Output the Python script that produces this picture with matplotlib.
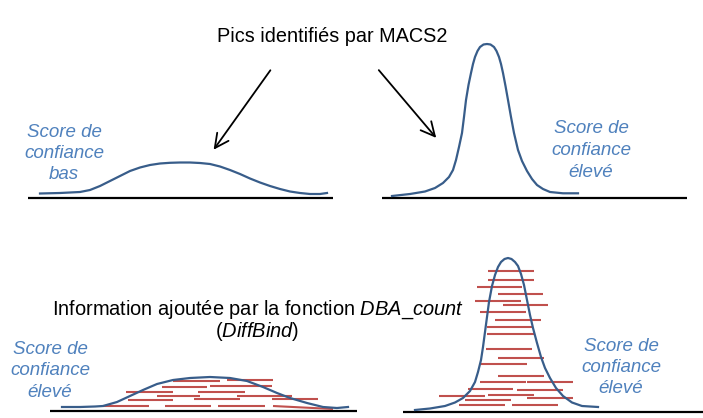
import matplotlib

matplotlib.use("Agg")
import matplotlib.pyplot as plt

plt.rcParams["font.family"] = ["Liberation Sans", "DejaVu Sans"]
plt.rcParams["mathtext.fontset"] = "custom"
plt.rcParams["mathtext.rm"] = "Liberation Sans"
plt.rcParams["mathtext.it"] = "Liberation Sans:italic"

CURVE_COLOR = "#385D8A"
LABEL_COLOR = "#4F81BD"
READ_COLOR = "#C0504D"

# peak profiles (pixel coordinates, y grows downwards)
low_top_x = [40, 60, 80, 90, 100, 110, 120, 130, 140, 150, 160, 170, 180, 190,
             200, 210, 220, 230, 240, 250, 260, 270, 280, 290, 300, 310, 320, 327]
low_top_y = [193.5, 193, 192, 190, 186, 181, 176, 171, 167.5, 165, 163.5, 162.8, 162.5, 162.5,
             163, 164, 166.5, 170, 174, 178.5, 182.5, 186, 189, 191.5, 193, 194, 194, 193]

high_top_x = [392, 410, 425, 435, 443, 449, 453, 456, 459, 462, 464, 466, 468.5, 471, 473,
              475, 477.5, 480, 483.5, 487, 490.5, 494, 496.5, 499, 501, 503, 505.5, 508,
              511, 514, 518, 522, 527, 532, 537, 543, 550, 563, 578]
high_top_y = [196, 194, 191.5, 188, 183, 177, 170, 160, 147, 133, 117, 100, 85, 73, 64,
              57, 51, 47, 44.5, 44, 44.5, 47, 51, 57, 64, 73, 86, 100, 117, 133, 150,
              161, 171, 179, 185, 189, 192, 193.3, 193.3]

low_bot_x = [62, 80, 95, 103, 117, 130, 143, 157, 173, 190, 210, 230, 247,
             263, 277, 290, 307, 323, 337, 348]
low_bot_y = [407, 407, 406.5, 406, 402, 396, 390, 384, 380, 378, 377, 378, 381,
             387, 393, 398, 403, 407, 408, 407]

high_bot_x = [415, 430, 445, 455, 463, 470, 475, 478, 481, 483, 485, 487, 489, 492,
              495, 498, 501, 504.5, 508, 511.5, 515, 518, 521, 524, 527, 530, 533, 537,
              541, 545, 550, 556, 563, 572, 582, 598]
high_bot_y = [410, 408.5, 406, 402.5, 398, 391, 382, 372, 360, 347, 332, 317, 302, 286,
              275, 267, 262, 259, 258, 259, 262, 266, 274, 285, 300, 315, 328, 343,
              357, 368, 378, 388, 396, 402.5, 406, 407]

# reads counted by DBA_count (start x, end x, start y, end y)
left_x0 = [173, 227, 162, 210, 126, 157, 198, 237, 128, 194, 272, 103, 165, 218, 273]
left_x1 = [220, 273, 207, 272, 173, 200, 245, 292, 173, 240, 318, 149, 211, 265, 333]
left_y0 = [381, 380, 387, 386, 392, 396, 392, 396, 400, 399, 399, 406, 406, 406, 406]
left_y1 = [381, 380, 387, 386, 392, 396, 392, 396, 400, 399, 399, 406, 406, 406, 409]

right_x0 = [488, 488, 477, 498, 475, 503, 480, 495, 487, 487, 486, 498, 481, 498,
            480, 527, 468, 517, 439, 488, 527, 465, 459, 512]
right_x1 = [534, 534, 522, 543, 521, 548, 526, 541, 533, 534, 532, 544, 527, 544,
            526, 573, 513, 563, 485, 534, 573, 511, 505, 558]
right_y = [271, 280, 287, 294, 301, 305, 312, 320, 327, 334, 349, 358, 364, 376,
           382, 382, 389, 390, 396, 395, 398, 400, 405, 405]

# baselines (x start, x end, y)
base_x0 = [28, 382, 50, 403]
base_x1 = [333, 687, 357, 703]
base_y = [198, 198, 411, 412]

fig = plt.figure(figsize=(7.03, 4.18), dpi=100)
ax = fig.add_axes([0, 0, 1, 1])
ax.set_xlim(0, 703)
ax.set_ylim(418, 0)
ax.axis("off")

for x0, x1, y in zip(base_x0, base_x1, base_y):
    ax.plot([x0, x1], [y, y], color="black", linewidth=1.6, solid_capstyle="butt")

for x0, x1, y0, y1 in zip(left_x0, left_x1, left_y0, left_y1):
    ax.plot([x0, x1], [y0, y1], color=READ_COLOR, linewidth=1.5, solid_capstyle="butt")
for x0, x1, y in zip(right_x0, right_x1, right_y):
    ax.plot([x0, x1], [y, y], color=READ_COLOR, linewidth=1.5, solid_capstyle="butt")

for xs, ys in [(low_top_x, low_top_y), (high_top_x, high_top_y),
               (low_bot_x, low_bot_y), (high_bot_x, high_bot_y)]:
    ax.plot(xs, ys, color=CURVE_COLOR, linewidth=1.6, solid_joinstyle="round")

arrow_style = dict(arrowstyle="->,head_length=1.0,head_width=0.5", color="black", linewidth=1.3)
ax.annotate("", xy=(212, 152), xytext=(272, 68), arrowprops=arrow_style)
ax.annotate("", xy=(438, 140), xytext=(377, 68), arrowprops=arrow_style)

ax.text(332, 42, "Pics identifiés par MACS2", fontsize=14.3, ha="center", va="baseline")
ax.text(258, 315, r"Information ajoutée par la fonction $\mathit{DBA\_count}$",
        fontsize=14.4, ha="center", va="baseline")
ax.text(257, 337, r"($\mathit{DiffBind}$)", fontsize=14.4, ha="center", va="baseline")

label_style = dict(fontsize=13.5, style="italic", color=LABEL_COLOR, ha="center", va="baseline")
for cx, lines, ys in [
    (64, ["Score de", "confiance", "bas"], [137, 158, 179]),
    (591, ["Score de", "confiance", "élevé"], [133, 155, 177]),
    (50, ["Score de", "confiance", "élevé"], [354, 375, 397]),
    (621, ["Score de", "confiance", "élevé"], [351, 372, 393]),
]:
    for line, y in zip(lines, ys):
        ax.text(cx, y, line, **label_style)

fig.savefig("out.png", dpi=100)
